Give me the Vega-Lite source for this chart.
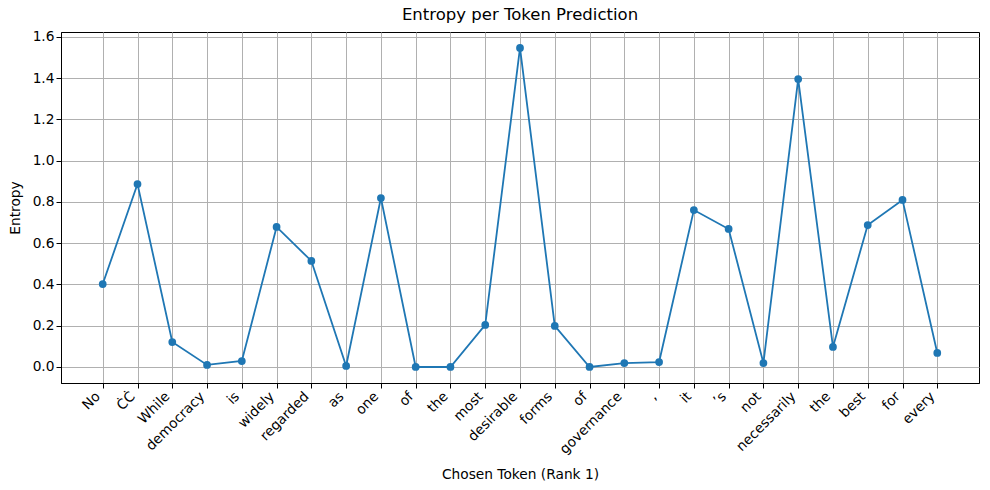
{
  "$schema": "https://vega.github.io/schema/vega-lite/v6.json",
  "autosize": "none",
  "width": 918,
  "height": 351,
  "padding": {"left": 61, "top": 32, "right": 11, "bottom": 107},
  "background": "white",
  "title": {"text": "Entropy per Token Prediction", "font": "DejaVu Sans", "fontSize": 16.5, "fontWeight": "normal", "color": "black", "offset": 6},
  "config": {
    "font": "DejaVu Sans",
    "view": {"stroke": "black", "strokeWidth": 1},
    "axis": {
      "labelFont": "DejaVu Sans", "labelFontSize": 13.75, "labelColor": "black",
      "titleFont": "DejaVu Sans", "titleFontSize": 13.75, "titleFontWeight": "normal", "titleColor": "black",
      "domainColor": "black", "tickColor": "black", "tickSize": 5,
      "gridColor": "#b0b0b0", "gridWidth": 1
    }
  },
  "data": {"values": [
    {"idx": 0, "token": "No", "entropy": 0.402},
    {"idx": 1, "token": "ĊĊ", "entropy": 0.887},
    {"idx": 2, "token": "While", "entropy": 0.121},
    {"idx": 3, "token": "democracy", "entropy": 0.010},
    {"idx": 4, "token": "is", "entropy": 0.029},
    {"idx": 5, "token": "widely", "entropy": 0.679},
    {"idx": 6, "token": "regarded", "entropy": 0.514},
    {"idx": 7, "token": "as", "entropy": 0.005},
    {"idx": 8, "token": "one", "entropy": 0.819},
    {"idx": 9, "token": "of", "entropy": 0.0},
    {"idx": 10, "token": "the", "entropy": 0.0},
    {"idx": 11, "token": "most", "entropy": 0.204},
    {"idx": 12, "token": "desirable", "entropy": 1.547},
    {"idx": 13, "token": "forms", "entropy": 0.199},
    {"idx": 14, "token": "of", "entropy": 0.0},
    {"idx": 15, "token": "governance", "entropy": 0.019},
    {"idx": 16, "token": ",", "entropy": 0.024},
    {"idx": 17, "token": "it", "entropy": 0.761},
    {"idx": 18, "token": "’s", "entropy": 0.669},
    {"idx": 19, "token": "not", "entropy": 0.019},
    {"idx": 20, "token": "necessarily", "entropy": 1.396},
    {"idx": 21, "token": "the", "entropy": 0.097},
    {"idx": 22, "token": "best", "entropy": 0.688},
    {"idx": 23, "token": "for", "entropy": 0.810},
    {"idx": 24, "token": "every", "entropy": 0.068}
  ]},
  "encoding": {
    "x": {"field": "idx", "type": "quantitative",
      "scale": {"domain": [-1.2, 25.2], "nice": false, "zero": false},
      "axis": {"title": "Chosen Token (Rank 1)", "values": [0,1,2,3,4,5,6,7,8,9,10,11,12,13,14,15,16,17,18,19,20,21,22,23,24],
        "labelExpr": "['No','ĊĊ','While','democracy','is','widely','regarded','as','one','of','the','most','desirable','forms','of','governance',',','it','’s','not','necessarily','the','best','for','every'][datum.value]",
        "labelAngle": -45, "labelAlign": "right", "labelBaseline": "middle", "labelOffset": -5, "labelPadding": 6, "titleY": 84, "labelOverlap": false}},
    "y": {"field": "entropy", "type": "quantitative",
      "scale": {"domain": [-0.0776, 1.624], "nice": false, "zero": false},
      "axis": {"title": "Entropy", "values": [0,0.2,0.4,0.6,0.8,1.0,1.2,1.4,1.6], "format": ".1f", "titlePadding": 10}}
  },
  "layer": [
    {"mark": {"type": "line", "color": "#1f77b4", "strokeWidth": 1.8}},
    {"mark": {"type": "point", "filled": true, "color": "#1f77b4", "opacity": 1, "size": 60}}
  ]
}
